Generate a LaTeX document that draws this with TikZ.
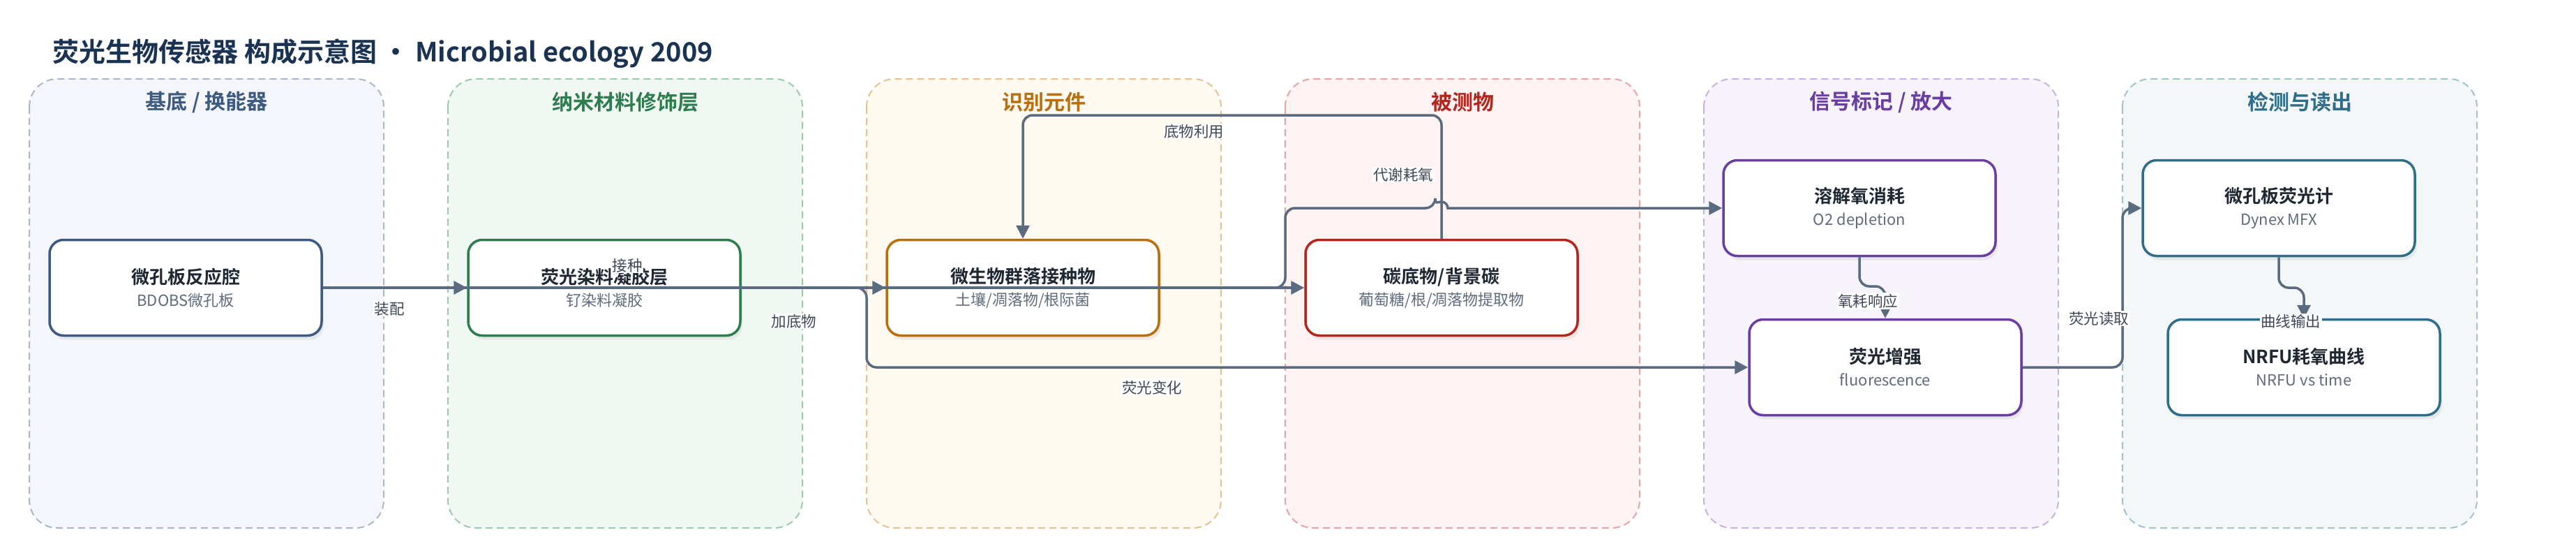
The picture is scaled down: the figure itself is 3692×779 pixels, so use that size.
\documentclass[tikz,border=0pt]{standalone}
\usepackage{fontspec}
\setmainfont{Noto Sans CJK SC}[BoldFont={Noto Sans CJK SC Bold}]
\usetikzlibrary{arrows.meta,shadows}

\definecolor{titleink}{HTML}{1B3352}
\definecolor{ink}{HTML}{1F2733}
\definecolor{subink}{HTML}{5F6B7B}
\definecolor{labelink}{HTML}{3F4756}
\definecolor{flowgray}{HTML}{5A6B80}
% lane colours: fill / dashed line / heading and box border
\definecolor{laneAfill}{HTML}{F4F6FB}\definecolor{laneAline}{HTML}{A9B7CA}\definecolor{laneAhead}{HTML}{3D5A80}
\definecolor{laneBfill}{HTML}{F1F8F3}\definecolor{laneBline}{HTML}{9CCAAD}\definecolor{laneBhead}{HTML}{2E7D4F}
\definecolor{laneCfill}{HTML}{FEF9F1}\definecolor{laneCline}{HTML}{E8C28E}\definecolor{laneChead}{HTML}{B8700F}
\definecolor{laneDfill}{HTML}{FDF3F2}\definecolor{laneDline}{HTML}{E8A4A4}\definecolor{laneDhead}{HTML}{B3261E}
\definecolor{laneEfill}{HTML}{F7F3FB}\definecolor{laneEline}{HTML}{C9B2E2}\definecolor{laneEhead}{HTML}{6A3EA1}
\definecolor{laneFfill}{HTML}{F3F7F8}\definecolor{laneFline}{HTML}{A2C2CE}\definecolor{laneFhead}{HTML}{2F6E8A}

\newcommand{\stagetitle}[1]{{\fontsize{26}{32}\selectfont\bfseries\color{ink}#1}}

\tikzset{
  lane/.style={rounded corners=40pt, dash pattern=on 10pt off 6pt, line width=2pt},
  lanehead/.style={font=\fontsize{30}{36}\selectfont\bfseries},
  stage/.style={draw, fill=white, line width=3.5pt, rounded corners=20pt,
    minimum width=390pt, minimum height=137pt, align=center,
    font=\fontsize{22}{32}\selectfont, text=subink,
    drop shadow={shadow xshift=3pt, shadow yshift=-6pt, opacity=0.12}},
  flow/.style={draw=flowgray, line width=3.5pt, rounded corners=14pt,
    -{Triangle[length=19pt,width=19pt]}},
  flowlabel/.style={fill=white, inner sep=1.5pt, text=labelink,
    font=\fontsize{21.5}{24}\selectfont},
}

\begin{document}
\begin{tikzpicture}[x=1pt,y=-1pt]
\fill[white] (0,0) rectangle (3692,779);
\useasboundingbox (0,0) rectangle (3692,779);

\node[anchor=west, font=\fontsize{38}{44}\selectfont\bfseries, text=titleink] (title)
  at (72,77) {荧光生物传感器 构成示意图 · Microbial ecology 2009};

% lanes
\draw[lane, draw=laneAline, fill=laneAfill] (42,113) rectangle (550,756);
\draw[lane, draw=laneBline, fill=laneBfill] (642,113) rectangle (1150,756);
\draw[lane, draw=laneCline, fill=laneCfill] (1242,113) rectangle (1750,756);
\draw[lane, draw=laneDline, fill=laneDfill] (1842,113) rectangle (2350,756);
\draw[lane, draw=laneEline, fill=laneEfill] (2442,113) rectangle (2950,756);
\draw[lane, draw=laneFline, fill=laneFfill] (3042,113) rectangle (3550,756);

\node[lanehead, text=laneAhead] (headA) at (296,146) {基底 / 换能器};
\node[lanehead, text=laneBhead] (headB) at (896,146) {纳米材料修饰层};
\node[lanehead, text=laneChead] (headC) at (1496,146) {识别元件};
\node[lanehead, text=laneDhead] (headD) at (2096,146) {被测物};
\node[lanehead, text=laneEhead] (headE) at (2696,146) {信号标记 / 放大};
\node[lanehead, text=laneFhead] (headF) at (3296,146) {检测与读出};

% stages
\node[stage, draw=laneAhead] (plate) at (266,412) {\stagetitle{微孔板反应腔}\\BDOBS微孔板};
\node[stage, draw=laneBhead] (gel) at (866,412) {\stagetitle{荧光染料凝胶层}\\钌染料凝胶};
\node[stage, draw=laneChead] (inoc) at (1466,412) {\stagetitle{微生物群落接种物}\\土壤/凋落物/根际菌};
\node[stage, draw=laneDhead] (carbon) at (2066,412) {\stagetitle{碳底物/背景碳}\\葡萄糖/根/凋落物提取物};
\node[stage, draw=laneEhead] (oxy) at (2665,298) {\stagetitle{溶解氧消耗}\\O2 depletion};
\node[stage, draw=laneEhead] (fluor) at (2702,526) {\stagetitle{荧光增强}\\fluorescence};
\node[stage, draw=laneFhead] (meter) at (3266,298) {\stagetitle{微孔板荧光计}\\Dynex MFX};
\node[stage, draw=laneFhead] (curve) at (3302,526) {\stagetitle{NRFU耗氧曲线}\\NRFU vs time};

% flows
\draw[flow] (plate.east) -- (gel.west);
\draw[flow] (plate.east) -- (inoc.west);
\draw[flow] (plate.east) -- (carbon.west);
\draw[flow] (gel.east) -- (1242,412) -- (1242,526) -- (fluor.west);
\draw[flow] (carbon.north) -- (carbon.north |- 0,165) -- (inoc.north |- 0,165) -- (inoc.north);
\draw[flow] (inoc.east) -- (1842,412) -- (1842,298) -- (2057,298)
  [sharp corners] arc[start angle=180, end angle=360, radius=9] -- (oxy.west);
\draw[flow] (oxy.south) -- (oxy.south |- 0,410) -- (fluor.north |- 0,410) -- (fluor.north);
\draw[flow] (fluor.east) -- (3042,526) -- (3042,298) -- (meter.west);
\draw[flow] (meter.south) -- (meter.south |- 0,412) -- (curve.north |- 0,412) -- (curve.north);

% flow labels
\node[flowlabel] (lblAssemble) at (558,442) {装配};
\node[flowlabel] (lblInoculate) at (899,380) {接种};
\node[flowlabel] (lblSubstrate) at (1138,460) {加底物};
\node[flowlabel] (lblFluChange) at (1651,555) {荧光变化};
\node[flowlabel] (lblUse) at (1711,188) {底物利用};
\node[flowlabel] (lblMetab) at (2011,250) {代谢耗氧};
\node[flowlabel] (lblResp) at (2677,431) {氧耗响应};
\node[flowlabel] (lblRead) at (3008,456) {荧光读取};
\node[flowlabel] (lblOut) at (3283,460) {曲线输出};
\end{tikzpicture}
\end{document}
